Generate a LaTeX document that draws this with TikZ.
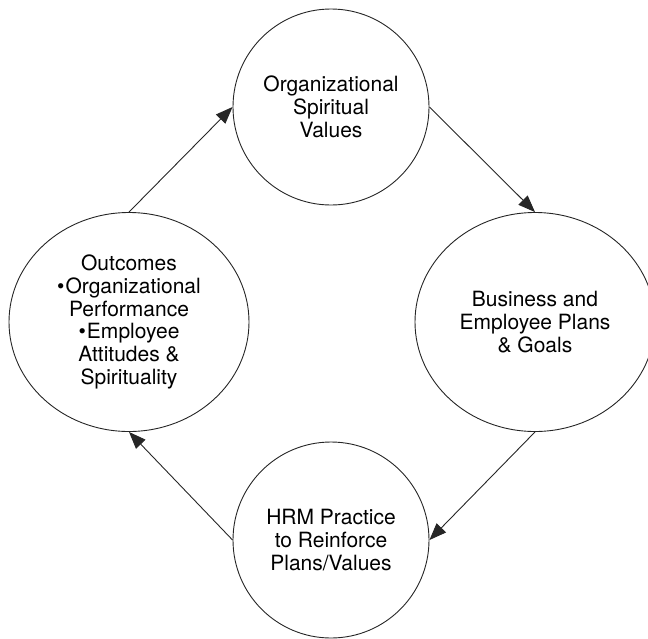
\documentclass[tikz,border=0pt]{standalone}
\usepackage{fontspec}
\setmainfont{TeX Gyre Heros}
\usetikzlibrary{shapes.geometric, arrows.meta}

\begin{document}
\begin{tikzpicture}[x=1pt, y=-1pt,
            rnd/.style={circle, draw=black!85, line width=0.9pt, minimum size=196pt, inner sep=0pt,
                        align=center, font=\fontsize{21}{22.8}\selectfont},
            ovl/.style={rnd, ellipse, minimum width=240pt, minimum height=219pt},
            ed/.style={draw=black!85, line width=0.9pt, -{Triangle[length=17pt, width=13pt]}}]
            \useasboundingbox (0,0) rectangle (648,638);
            \node[rnd] (V) at (331,107) {Organizational\\Spiritual\\Values};
            \node[ovl] (P) at (535,322) {Business and\\Employee Plans\\\& Goals};
            \node[rnd] (H) at (331,540) {HRM Practice\\to Reinforce\\Plans/Values};
            \node[ovl] (O) at (129,322) {Outcomes\\\textbullet\kern1pt Organizational\\Performance\\
                                         \textbullet\kern1pt Employee\\Attitudes \&\\Spirituality};
            \draw[ed] (O.north) -- (V.west);
            \draw[ed] (V.east) -- (P.north);
            \draw[ed] (P.south) -- (H.east);
            \draw[ed] (H.west) -- (O.south);
        \end{tikzpicture}
\end{document}
